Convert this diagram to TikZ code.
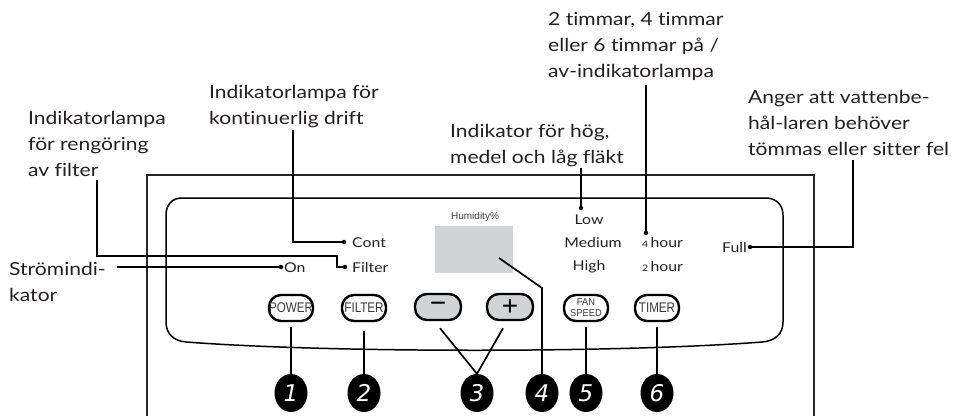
\documentclass[tikz,border=0pt]{standalone}
\usepackage{fontspec}
\setmainfont{Lato}[FakeStretch=1.17, Ligatures=NoCommon]
\newfontfamily\btnfont{Liberation Sans}
\newfontfamily\numfont{DejaVu Sans}
\usetikzlibrary{calc,shapes.geometric}
\definecolor{ink}{HTML}{231F20}
\definecolor{panelgray}{HTML}{D1D3D4}
\definecolor{btntext}{HTML}{3A3A3A}
\begin{document}
\begin{tikzpicture}[x=1pt,y=-1pt,
  lbl/.style={font=\fontsize{18}{25.8}\selectfont, align=left, inner sep=0, text=ink, anchor=north west},
  sm/.style={font=\fontsize{13.5}{16}\selectfont, inner sep=0, text=ink},
  btn/.style={draw=black, line width=2.4pt, rounded corners=12pt, minimum width=44pt, minimum height=26pt, fill=white, inner sep=0, text=btntext, font=\btnfont\fontsize{14}{14}\selectfont},
  gbtn/.style={btn, fill=panelgray, minimum width=46pt, text=black},
  num/.style={ellipse, fill=black, minimum width=33pt, minimum height=38pt, inner sep=0, text=white, font=\numfont\itshape\fontsize{23}{23}\selectfont},
  dotn/.style={circle, fill=black, inner sep=0, minimum size=4.5pt},
  conn/.style={line width=1.7pt, draw=black},
  frame/.style={line width=2pt, draw=black!85},
  panel/.style={line width=1.5pt, draw=black}
]
\useasboundingbox (0,0) rectangle (953,415);

% outer housing and panel
\draw[frame] (147,417) -- (147,175) -- (814,175) -- (814,417);
\draw[panel] (182,198) -- (766,198) .. controls (776,198) and (783,205) .. (783,215)
  -- (783,322) .. controls (783,334) and (775,341) .. (762,342)
  .. controls (620,353) and (330,353) .. (186,342)
  .. controls (174,341) and (166,334) .. (166,322) -- (166,215)
  .. controls (166,205) and (172,198) .. (182,198) -- cycle;

% display
\node[font=\btnfont\fontsize{10}{10}\selectfont, text=btntext, anchor=base, inner sep=0] (hum) at (475,219) {Humidity\%};
\node[fill=panelgray, minimum width=78pt, minimum height=47pt, inner sep=0] (disp) at (474,249.5) {};

% indicator labels
\node[sm, anchor=base west] (tCont) at (352,247) {Cont};
\node[sm, anchor=base west] (tFilter) at (352,272) {Filter};
\node[sm, anchor=base west] (tOn) at (284,272) {On};
\node[sm, anchor=base] (tLow) at (589,224) {Low};
\node[sm, anchor=base] (tMed) at (593,247) {Medium};
\node[sm, anchor=base] (tHigh) at (589,270) {High};
\node[sm, anchor=base west] (t4h) at (642,247) {{\fontsize{9}{10}\selectfont 4}\,hour};
\node[sm, anchor=base west] (t2h) at (642,271) {{\fontsize{9}{10}\selectfont 2}\,hour};
\node[sm, anchor=base east] (tFull) at (747,252) {Full};

% indicator dots
\node[dotn] (dOn) at (281,267) {};
\node[dotn] (dFilter) at (345,267) {};
\node[dotn] (dCont) at (344,242) {};
\node[dotn] (dLow) at (581,208) {};
\node[dotn] (d4h) at (646,233) {};
\node[dotn] (dFull) at (750,247) {};

% callout texts
\node[lbl] (cFilter) at (28,111.5) {Indikatorlampa\\för rengöring\\av filter};
\node[lbl] (cCont) at (209,85.5) {Indikatorlampa för\\kontinuerlig drift};
\node[lbl] (cFan) at (450,124.5) {Indikator för hög,\\medel och låg fläkt};
\node[lbl] (cTimer) at (548,12.5) {2 timmar, 4 timmar\\eller 6 timmar på /\\av-indikatorlampa};
\node[lbl] (cFull) at (748,90.5) {Anger att vattenbe-\\hål-laren behöver\\tömmas eller sitter fel};
\node[lbl] (cPower) at (9,262.5) {Strömindi-\\kator};

% connector points
\coordinate (sOn) at (117,267);
\coordinate (sFilter) at (97,180);
\coordinate (kFilter) at (337,256);
\coordinate (sCont) at (293,130);
\coordinate (sLow) at (581,168);
\coordinate (s4h) at (646,85);
\coordinate (sFull) at (853,160);
\coordinate (sHum) at (499,258);
\coordinate (kHum) at (542,288);

\draw[conn] (sOn) -- (dOn);
\draw[conn] (sFilter) |- (kFilter) |- (dFilter);
\draw[conn] (sCont) |- (dCont);
\draw[conn] (sLow) -- (dLow);
\draw[conn] (s4h) -- (d4h);
\draw[conn] (sFull) |- (dFull);

% buttons
\node[btn] (bPower) at (291,308) {\scalebox{0.83}[1]{POWER}};
\node[btn] (bFilter) at (364,308) {\scalebox{0.83}[1]{FILTER}};
\node[gbtn] (bMinus) at (438,307) {\fontsize{28}{28}\selectfont −};
\node[gbtn] (bPlus) at (510,307) {\fontsize{28}{28}\selectfont +};
\node[btn, align=center, font=\btnfont\fontsize{10}{11}\selectfont] (bFan) at (586,308) {\scalebox{0.93}[1]{FAN}\\\scalebox{0.93}[1]{SPEED}};
\node[btn] (bTimer) at (657,308) {\scalebox{0.83}[1]{TIMER}};

% numbered markers
\node[num] (n1) at (291,393) {1};
\node[num] (n2) at (364,393) {2};
\node[num] (n3) at (477,393) {3};
\node[num] (n4) at (542,393) {4};
\node[num] (n5) at (586,393) {5};
\node[num] (n6) at (657,393) {6};

\draw[conn, shorten <=5pt] (bPower.south) -- (n1.north);
\draw[conn, shorten <=9pt] (bFilter.south) -- (n2.north);
\draw[conn] ([shift={(2,7)}]bMinus.south) -- (n3.north);
\draw[conn] ([shift={(-7,7)}]bPlus.south) -- (n3.north);
\draw[conn] (sHum) -- (kHum) -- (n4.north);
\draw[conn, shorten <=5pt] (bFan.south) -- (n5.north);
\draw[conn, shorten <=5pt] (bTimer.south) -- (n6.north);
\end{tikzpicture}
\end{document}
